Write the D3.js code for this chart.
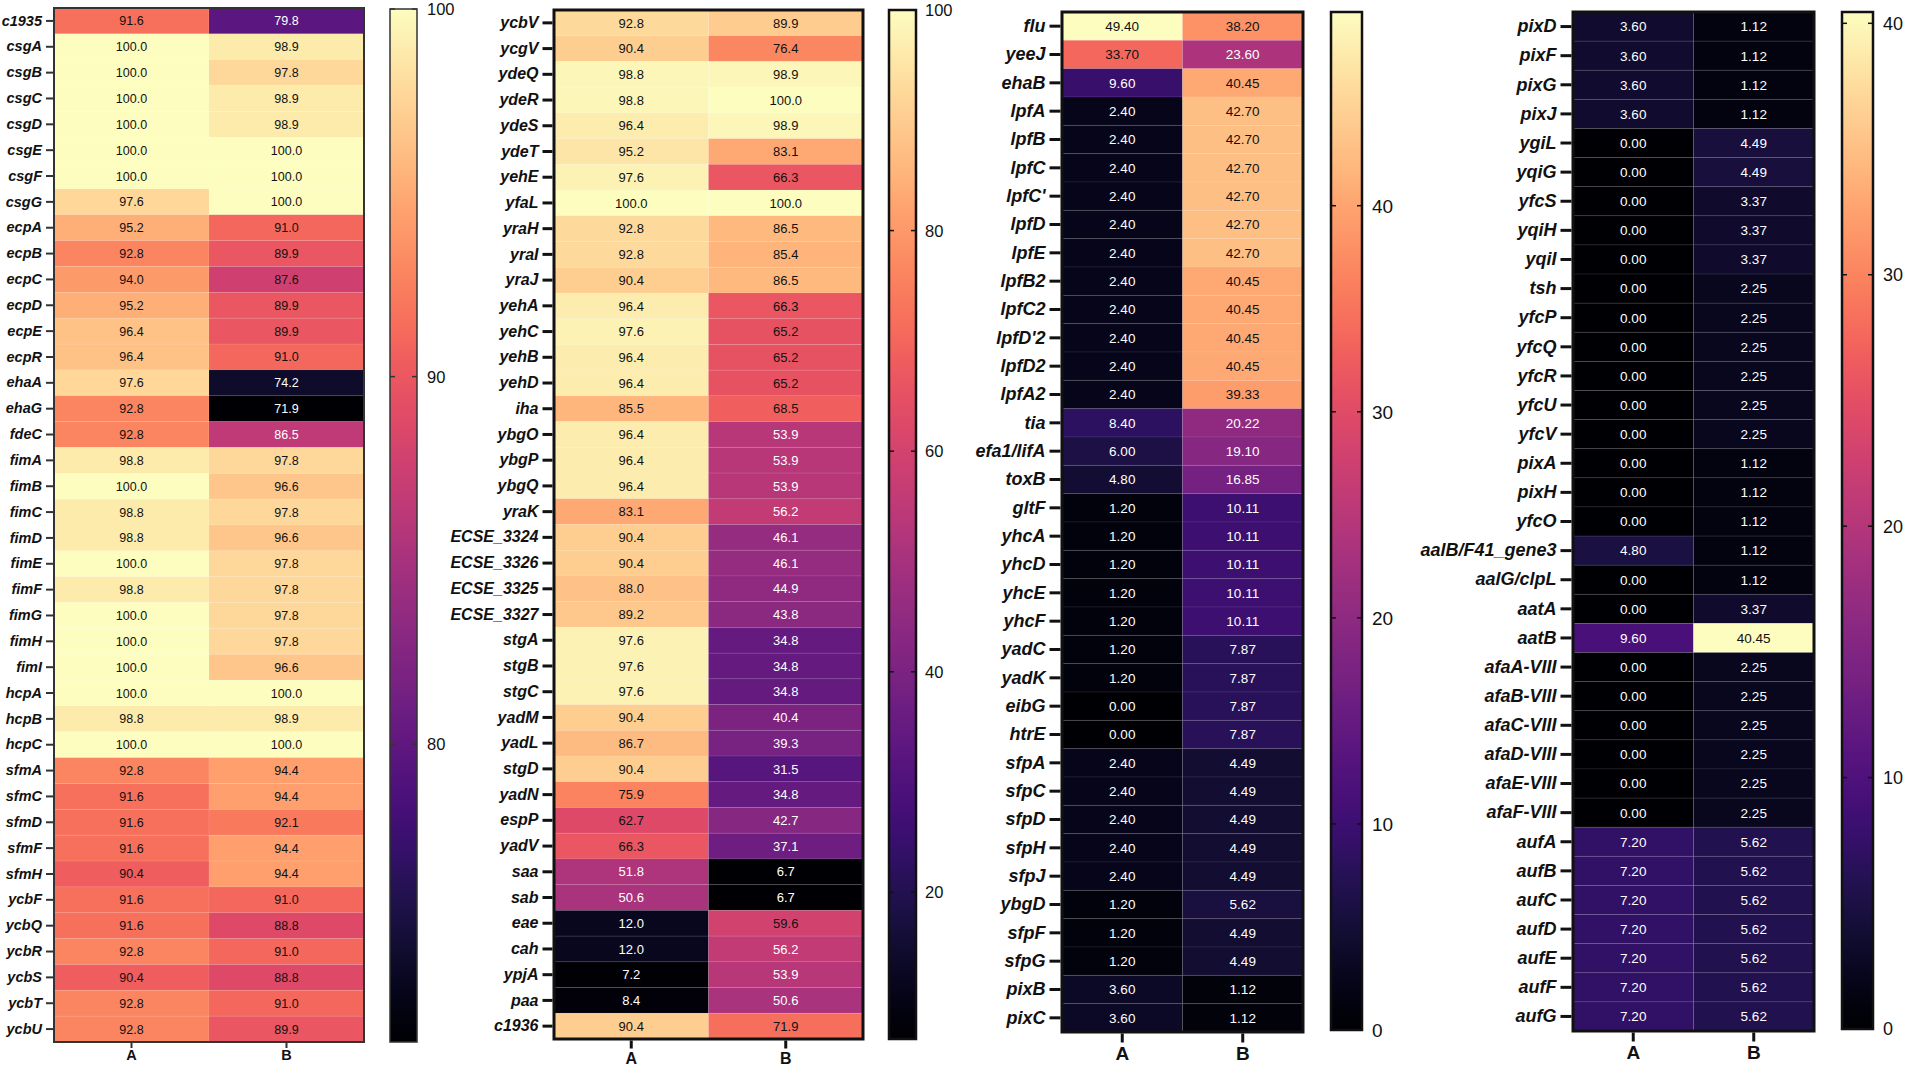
<!DOCTYPE html>
<html>
<head>
<meta charset="utf-8">
<script src="https://cdn.jsdelivr.net/npm/d3@7"></script>
<style>
  body { margin: 0; background: #fff; }
  svg { display: block; font-family: 'Liberation Sans', Arial, sans-serif; }
</style>
</head>
<body>
<div id="chart"></div>
<script>
// columns
const columns = ['A', 'B'];

// panel 1
const genes1 = ['c1935','csgA','csgB','csgC','csgD','csgE','csgF','csgG','ecpA','ecpB','ecpC','ecpD','ecpE','ecpR','ehaA','ehaG','fdeC','fimA','fimB','fimC','fimD','fimE','fimF','fimG','fimH','fimI','hcpA','hcpB','hcpC','sfmA','sfmC','sfmD','sfmF','sfmH','ycbF','ycbQ','ycbR','ycbS','ycbT','ycbU'];
const valsA1 = [91.6,100.0,100.0,100.0,100.0,100.0,100.0,97.6,95.2,92.8,94.0,95.2,96.4,96.4,97.6,92.8,92.8,98.8,100.0,98.8,98.8,100.0,98.8,100.0,100.0,100.0,100.0,98.8,100.0,92.8,91.6,91.6,91.6,90.4,91.6,91.6,92.8,90.4,92.8,92.8];
const valsB1 = [79.8,98.9,97.8,98.9,98.9,100.0,100.0,100.0,91.0,89.9,87.6,89.9,89.9,91.0,74.2,71.9,86.5,97.8,96.6,97.8,96.6,97.8,97.8,97.8,97.8,96.6,100.0,98.9,100.0,94.4,94.4,92.1,94.4,94.4,91.0,88.8,91.0,88.8,91.0,89.9];
const ticks1 = [80, 90, 100];

// panel 2
const genes2 = ['ycbV','ycgV','ydeQ','ydeR','ydeS','ydeT','yehE','yfaL','yraH','yraI','yraJ','yehA','yehC','yehB','yehD','iha','ybgO','ybgP','ybgQ','yraK','ECSE_3324','ECSE_3326','ECSE_3325','ECSE_3327','stgA','stgB','stgC','yadM','yadL','stgD','yadN','espP','yadV','saa','sab','eae','cah','ypjA','paa','c1936'];
const valsA2 = [92.8,90.4,98.8,98.8,96.4,95.2,97.6,100.0,92.8,92.8,90.4,96.4,97.6,96.4,96.4,85.5,96.4,96.4,96.4,83.1,90.4,90.4,88.0,89.2,97.6,97.6,97.6,90.4,86.7,90.4,75.9,62.7,66.3,51.8,50.6,12.0,12.0,7.2,8.4,90.4];
const valsB2 = [89.9,76.4,98.9,100.0,98.9,83.1,66.3,100.0,86.5,85.4,86.5,66.3,65.2,65.2,65.2,68.5,53.9,53.9,53.9,56.2,46.1,46.1,44.9,43.8,34.8,34.8,34.8,40.4,39.3,31.5,34.8,42.7,37.1,6.7,6.7,59.6,56.2,53.9,50.6,71.9];
const ticks2 = [20, 40, 60, 80, 100];

// panel 3
const genes3 = ['flu','yeeJ','ehaB','lpfA','lpfB','lpfC',"lpfC'",'lpfD','lpfE','lpfB2','lpfC2',"lpfD'2",'lpfD2','lpfA2','tia','efa1/lifA','toxB','gltF','yhcA','yhcD','yhcE','yhcF','yadC','yadK','eibG','htrE','sfpA','sfpC','sfpD','sfpH','sfpJ','ybgD','sfpF','sfpG','pixB','pixC'];
const valsA3 = [49.40,33.70,9.60,2.40,2.40,2.40,2.40,2.40,2.40,2.40,2.40,2.40,2.40,2.40,8.40,6.00,4.80,1.20,1.20,1.20,1.20,1.20,1.20,1.20,0.00,0.00,2.40,2.40,2.40,2.40,2.40,1.20,1.20,1.20,3.60,3.60];
const valsB3 = [38.20,23.60,40.45,42.70,42.70,42.70,42.70,42.70,42.70,40.45,40.45,40.45,40.45,39.33,20.22,19.10,16.85,10.11,10.11,10.11,10.11,10.11,7.87,7.87,7.87,7.87,4.49,4.49,4.49,4.49,4.49,5.62,4.49,4.49,1.12,1.12];
const ticks3 = [0, 10, 20, 30, 40];

// panel 4
const genes4 = ['pixD','pixF','pixG','pixJ','ygiL','yqiG','yfcS','yqiH','yqiI','tsh','yfcP','yfcQ','yfcR','yfcU','yfcV','pixA','pixH','yfcO','aalB/F41_gene3','aalG/clpL','aatA','aatB','afaA-VIII','afaB-VIII','afaC-VIII','afaD-VIII','afaE-VIII','afaF-VIII','aufA','aufB','aufC','aufD','aufE','aufF','aufG'];
const valsA4 = [3.60,3.60,3.60,3.60,0.00,0.00,0.00,0.00,0.00,0.00,0.00,0.00,0.00,0.00,0.00,0.00,0.00,0.00,4.80,0.00,0.00,9.60,0.00,0.00,0.00,0.00,0.00,0.00,7.20,7.20,7.20,7.20,7.20,7.20,7.20];
const valsB4 = [1.12,1.12,1.12,1.12,4.49,4.49,3.37,3.37,3.37,2.25,2.25,2.25,2.25,2.25,2.25,1.12,1.12,1.12,1.12,1.12,3.37,40.45,2.25,2.25,2.25,2.25,2.25,2.25,5.62,5.62,5.62,5.62,5.62,5.62,5.62];
const ticks4 = [0, 10, 20, 30, 40];

// layout per panel (pixels)
const panels = [
  { genes: genes1, A: valsA1, B: valsB1, ticks: ticks1, domain: [71.9, 100], digits: 1,
    box: [54, 364, 8, 1042], bar: [390, 417, 9, 1042],
    border: 2, borderColor: '#333', tickLen: 7, xTick: 5, xPad: 2,
    geneFont: 14.5, cellFont: 12.5, colFont: 14.5, barFont: 16.5, barGap: 10 },
  { genes: genes2, A: valsA2, B: valsB2, ticks: ticks2, domain: [6.7, 100], digits: 1,
    box: [554, 863, 10, 1039], bar: [889, 916, 10, 1039],
    border: 3, borderColor: '#111', tickLen: 10, xTick: 8, xPad: 4,
    geneFont: 16, cellFont: 13, colFont: 16, barFont: 16.5, barGap: 9 },
  { genes: genes3, A: valsA3, B: valsB3, ticks: ticks3, domain: [0, 49.4], digits: 2,
    box: [1062, 1303, 12, 1032], bar: [1331, 1362, 12, 1030],
    border: 3, borderColor: '#111', tickLen: 11, xTick: 9, xPad: 4,
    geneFont: 18, cellFont: 13.5, colFont: 19, barFont: 19, barGap: 10 },
  { genes: genes4, A: valsA4, B: valsB4, ticks: ticks4, domain: [0, 40.45], digits: 2,
    box: [1573, 1814, 12, 1031], bar: [1842, 1873, 12, 1029],
    border: 3, borderColor: '#111', tickLen: 11, xTick: 9, xPad: 4,
    geneFont: 18, cellFont: 13.5, colFont: 19, barFont: 18, barGap: 10 }
];

const W = 1907, H = 1068;
const svg = d3.select('#chart').append('svg').attr('width', W).attr('height', H);
const defs = svg.append('defs');

// shared gradient for the colour bars (magma, bottom -> top)
const grad = defs.append('linearGradient').attr('id', 'magma')
  .attr('x1', 0).attr('y1', 1).attr('x2', 0).attr('y2', 0);
d3.range(0, 1.0001, 0.02).forEach(t => {
  grad.append('stop').attr('offset', t).attr('stop-color', d3.interpolateMagma(t));
});

panels.forEach(drawPanel);

function drawPanel(p) {
  const [x0, x1, y0, y1] = p.box;
  const g = svg.append('g');

  const x = d3.scaleBand().domain(columns).range([x0, x1]);
  const y = d3.scaleBand().domain(p.genes).range([y0, y1]);
  const color = d3.scaleSequential(d3.interpolateMagma).domain(p.domain);
  const tNorm = d3.scaleLinear().domain(p.domain).range([0, 1]);

  const cells = [];
  p.genes.forEach((gene, i) => {
    cells.push({ gene, col: 'A', v: p.A[i] });
    cells.push({ gene, col: 'B', v: p.B[i] });
  });

  g.selectAll('rect.cell')
    .data(cells)
    .join('rect')
    .classed('cell', true)
    .attr('x', d => x(d.col))
    .attr('y', d => y(d.gene))
    .attr('width', x.bandwidth())
    .attr('height', y.bandwidth())
    .attr('fill', d => color(d.v))
    .attr('stroke', 'rgba(255,255,255,0.07)')
    .attr('stroke-width', 1);

  g.selectAll('text.val')
    .data(cells)
    .join('text')
    .classed('val', true)
    .attr('x', d => x(d.col) + x.bandwidth() / 2)
    .attr('y', d => y(d.gene) + y.bandwidth() / 2)
    .attr('dy', '0.36em')
    .attr('text-anchor', 'middle')
    .style('font-size', p.cellFont + 'px')
    .attr('fill', d => tNorm(d.v) < 0.555 ? '#fff' : '#111')
    .text(d => d.v.toFixed(p.digits));

  // frame
  g.append('rect')
    .attr('x', x0).attr('y', y0)
    .attr('width', x1 - x0).attr('height', y1 - y0)
    .attr('fill', 'none')
    .attr('stroke', p.borderColor)
    .attr('stroke-width', p.border);

  // gene axis
  const yAxis = g.append('g')
    .attr('transform', `translate(${x0 - p.border / 2},0)`)
    .call(d3.axisLeft(y).tickSize(p.tickLen).tickPadding(4));
  yAxis.select('.domain').remove();
  yAxis.selectAll('line').attr('stroke', p.borderColor).attr('stroke-width', p.border);
  yAxis.selectAll('text')
    .style('font-size', p.geneFont + 'px')
    .style('font-weight', 'bold')
    .style('font-style', 'italic')
    .attr('fill', '#111');

  // column axis
  const xAxis = g.append('g')
    .attr('transform', `translate(0,${y1 + p.border / 2})`)
    .call(d3.axisBottom(x).tickSize(p.xTick).tickPadding(p.xPad));
  xAxis.select('.domain').remove();
  xAxis.selectAll('line').attr('stroke', p.borderColor).attr('stroke-width', p.border);
  xAxis.selectAll('text')
    .style('font-size', p.colFont + 'px')
    .style('font-weight', 'bold')
    .attr('fill', '#111');

  // colour bar
  const [bx0, bx1, by0, by1] = p.bar;
  const barScale = d3.scaleLinear().domain(p.domain).range([by1, by0]);
  g.append('rect')
    .attr('x', bx0).attr('y', by0)
    .attr('width', bx1 - bx0).attr('height', by1 - by0)
    .attr('fill', 'url(#magma)')
    .attr('stroke', p.borderColor)
    .attr('stroke-width', p.border - 0.5);

  const tk = g.append('g').selectAll('g.bt')
    .data(p.ticks)
    .join('g')
    .classed('bt', true)
    .attr('transform', d => `translate(0,${barScale(d)})`);
  tk.append('line')
    .attr('x1', bx0).attr('x2', bx0 + 5)
    .attr('stroke', p.borderColor).attr('stroke-width', 1.5);
  tk.append('line')
    .attr('x1', bx1 - 5).attr('x2', bx1)
    .attr('stroke', p.borderColor).attr('stroke-width', 1.5);
  tk.append('text')
    .attr('x', bx1 + p.barGap)
    .attr('dy', '0.36em')
    .style('font-size', p.barFont + 'px')
    .attr('fill', '#111')
    .text(d => d);
}
</script>
</body>
</html>
